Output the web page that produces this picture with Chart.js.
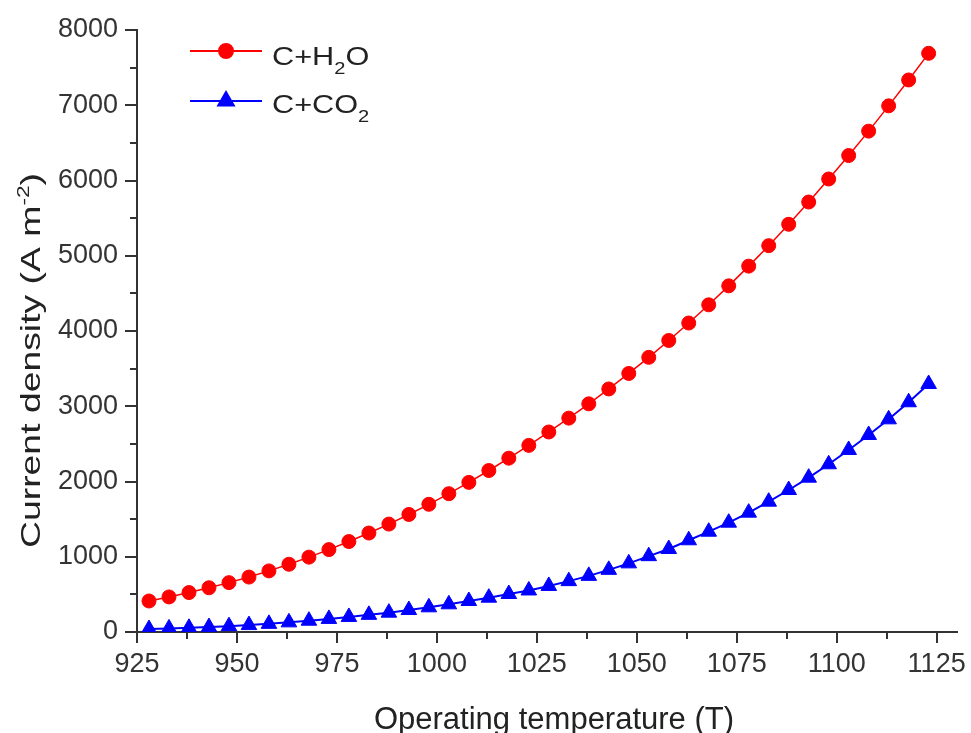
<!DOCTYPE html>
<html>
<head>
<meta charset="utf-8">
<script src="https://cdn.jsdelivr.net/npm/chart.js@4.4.1/dist/chart.umd.min.js"></script>
<style>
  html, body { margin: 0; padding: 0; background: #fff; }
</style>
</head>
<body>
<canvas id="chart" width="971" height="733"></canvas>
<script>
// --- data ---
const temps = [928, 933, 938, 943, 948, 953, 958, 963, 968, 973,
               978, 983, 988, 993, 998, 1003, 1008, 1013, 1018, 1023,
               1028, 1033, 1038, 1043, 1048, 1053, 1058, 1063, 1068, 1073,
               1078, 1083, 1088, 1093, 1098, 1103, 1108, 1113, 1118, 1123];

const h2oValues = [412, 466, 524, 588, 656, 730, 812, 900, 995, 1095,
                   1202, 1315, 1434, 1562, 1697, 1838, 1988, 2146, 2310, 2480,
                   2658, 2842, 3032, 3230, 3436, 3650, 3874, 4106, 4348, 4600,
                   4862, 5134, 5418, 5714, 6020, 6332, 6656, 6992, 7336, 7690];

const co2Values = [40, 48, 56, 66, 78, 92, 108, 128, 150, 174,
                   200, 228, 257, 292, 328, 368, 412, 456, 505, 552,
                   612, 676, 746, 826, 912, 1008, 1103, 1219, 1333, 1453,
                   1586, 1732, 1887, 2051, 2229, 2419, 2618, 2826, 3053, 3296];

const xTicks = [925, 950, 975, 1000, 1025, 1050, 1075, 1100, 1125];
const yTicks = [0, 1000, 2000, 3000, 4000, 5000, 6000, 7000, 8000];
const xMinorTicks = [937.5, 962.5, 987.5, 1012.5, 1037.5, 1062.5, 1087.5, 1112.5];
const yMinorTicks = [500, 1500, 2500, 3500, 4500, 5500, 6500, 7500];

const RED = '#ff0000';
const BLUE = '#0000ff';
const AXIS = '#333333';
const FONT = '"Liberation Sans", Arial, sans-serif';

// draw a run of text pieces (normal / sub / sup) with horizontal stretch
function drawRuns(ctx, x, y, runs, sx) {
    ctx.save();
    ctx.translate(x, y);
    ctx.scale(sx, 1);
    let cx = 0;
    runs.forEach(r => {
        ctx.font = r.size + 'px ' + FONT;
        ctx.fillText(r.t, cx, r.dy || 0);
        cx += ctx.measureText(r.t).width;
    });
    ctx.restore();
}

function runsWidth(ctx, runs) {
    let w = 0;
    runs.forEach(r => {
        ctx.font = r.size + 'px ' + FONT;
        w += ctx.measureText(r.t).width;
    });
    return w;
}

const decorPlugin = {
    id: 'decor',
    afterDraw(chart) {
        const ctx = chart.ctx;
        const xs = chart.scales.x;
        const ys = chart.scales.y;
        const area = chart.chartArea;

        // minor ticks
        ctx.save();
        ctx.strokeStyle = AXIS;
        ctx.lineWidth = 2;
        ctx.beginPath();
        xMinorTicks.forEach(v => {
            const px = Math.round(xs.getPixelForValue(v));
            ctx.moveTo(px, area.bottom);
            ctx.lineTo(px, area.bottom + 7);
        });
        yMinorTicks.forEach(v => {
            const py = Math.round(ys.getPixelForValue(v));
            ctx.moveTo(area.left, py);
            ctx.lineTo(area.left - 7, py);
        });
        ctx.stroke();
        ctx.restore();

        ctx.save();
        ctx.fillStyle = '#222';
        ctx.textBaseline = 'alphabetic';
        ctx.textAlign = 'left';

        // x axis title
        const xRuns = [{ t: 'Operating temperature (T)', size: 31 }];
        const xw = runsWidth(ctx, xRuns);
        drawRuns(ctx, 554 - xw / 2, 729, xRuns, 1);

        // y axis title (rotated, with superscript)
        const yRuns = [
            { t: 'Current density (A m', size: 28 },
            { t: '-2', size: 17, dy: -11 },
            { t: ')', size: 28 }
        ];
        const yw = runsWidth(ctx, yRuns);
        const stretch = 375 / yw;
        ctx.save();
        ctx.translate(40, 548);
        ctx.rotate(-Math.PI / 2);
        drawRuns(ctx, 0, 0, yRuns, stretch);
        ctx.restore();

        // legend
        const legendRows = [
            { color: RED, style: 'circle', r: 7, y: 51, textY: 65,
              runs: [{ t: 'C+H', size: 26 }, { t: '2', size: 17, dy: 9 }, { t: 'O', size: 26 }] },
            { color: BLUE, style: 'triangle', r: 9, y: 101, textY: 113,
              runs: [{ t: 'C+CO', size: 26 }, { t: '2', size: 17, dy: 9 }] }
        ];
        legendRows.forEach(row => {
            ctx.strokeStyle = row.color;
            ctx.lineWidth = 2;
            ctx.beginPath();
            ctx.moveTo(190, row.y);
            ctx.lineTo(262, row.y);
            ctx.stroke();
            ctx.fillStyle = row.color;
            Chart.helpers.drawPoint(ctx, {
                pointStyle: row.style, radius: row.r, rotation: 0, borderWidth: 1
            }, 226, row.y);
            ctx.fill();
            ctx.fillStyle = '#222';
            drawRuns(ctx, 272, row.textY, row.runs, 1.18);
        });
        ctx.restore();
    }
};

const h2oPoints = temps.map((t, i) => ({ x: t, y: h2oValues[i] }));
const co2Points = temps.map((t, i) => ({ x: t, y: co2Values[i] }));

const tickFont = { family: FONT, size: 27 };
const plainLabel = v => String(v);

new Chart(document.getElementById('chart'), {
    type: 'line',
    data: {
        datasets: [
            {
                label: 'C+H2O',
                data: h2oPoints,
                borderColor: RED,
                backgroundColor: RED,
                borderWidth: 1.5,
                pointStyle: 'circle',
                pointRadius: 7,
                pointBorderWidth: 1,
                tension: 0
            },
            {
                label: 'C+CO2',
                data: co2Points,
                borderColor: BLUE,
                backgroundColor: BLUE,
                borderWidth: 2,
                pointStyle: 'triangle',
                pointRadius: 9,
                pointBorderWidth: 1,
                tension: 0
            }
        ]
    },
    options: {
        responsive: false,
        devicePixelRatio: 1,
        animation: false,
        layout: { padding: { top: 30, right: 14, left: 0, bottom: 0 } },
        plugins: {
            legend: { display: false },
            tooltip: { enabled: false }
        },
        scales: {
            x: {
                type: 'linear',
                min: 925,
                max: 1130,
                afterBuildTicks: scale => { scale.ticks = xTicks.map(v => ({ value: v })); },
                afterFit: scale => { scale.height = 101; },
                border: { display: true, color: AXIS, width: 2 },
                grid: { drawOnChartArea: false, drawTicks: true, tickLength: 11, color: AXIS, lineWidth: 2 },
                ticks: { font: tickFont, color: '#333', padding: 5, maxRotation: 0, autoSkip: false, callback: plainLabel }
            },
            y: {
                type: 'linear',
                min: 0,
                max: 8000,
                afterBuildTicks: scale => { scale.ticks = yTicks.map(v => ({ value: v })); },
                afterFit: scale => { scale.width = 137; },
                border: { display: true, color: AXIS, width: 2 },
                grid: { drawOnChartArea: false, drawTicks: true, tickLength: 12, color: AXIS, lineWidth: 2 },
                ticks: { font: tickFont, color: '#333', padding: 7, autoSkip: false, callback: plainLabel }
            }
        }
    },
    plugins: [decorPlugin]
});
</script>
</body>
</html>
